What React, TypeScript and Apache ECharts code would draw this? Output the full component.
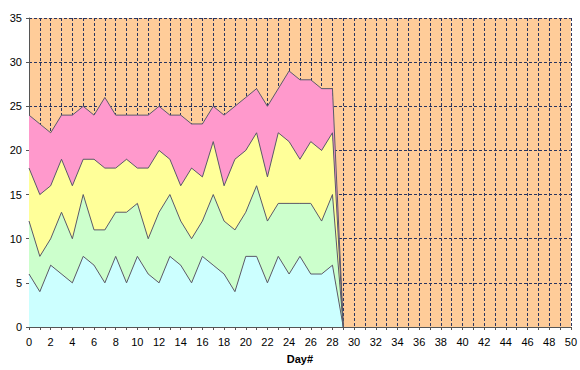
import React, { useEffect, useRef } from "react";
import * as echarts from "echarts";

const dayLabels: string[] = Array.from({ length: 51 }, (_, i) => String(i));
const seriesA: number[] = [6, 4, 7, 6, 5, 8, 7, 5, 8, 5, 8, 6, 5, 8, 7, 5, 8, 7, 6, 4, 8, 8, 5, 8, 6, 8, 6, 6, 7, 0];
const seriesB: number[] = [6, 4, 3, 7, 5, 7, 4, 6, 5, 8, 6, 4, 8, 7, 5, 5, 4, 8, 6, 7, 5, 8, 7, 6, 8, 6, 8, 6, 8, 0];
const seriesC: number[] = [6, 7, 6, 6, 6, 4, 8, 7, 5, 6, 4, 8, 7, 4, 4, 8, 5, 6, 4, 8, 7, 6, 5, 8, 7, 5, 7, 8, 7, 0];
const seriesD: number[] = [6, 8, 6, 5, 8, 6, 5, 8, 6, 5, 6, 6, 5, 5, 8, 5, 6, 4, 8, 6, 6, 5, 8, 5, 8, 9, 7, 7, 5, 0];
const seriesColors: string[] = ["#CCFFFF", "#CCFFCC", "#FFFF99", "#FF99CC"];
const seriesNames: string[] = ["A", "B", "C", "D"];

export default function App() {
  const ref = useRef<HTMLDivElement>(null);
  useEffect(() => {
    if (!ref.current) return;
    const chart = echarts.init(ref.current, null, { renderer: "svg" });
    const all = [seriesA, seriesB, seriesC, seriesD];
    chart.setOption({
      animation: false,
      backgroundColor: "#ffffff",
      grid: {
        left: 29,
        right: 8,
        top: 18,
        bottom: 43,
        show: true,
        backgroundColor: "#FFCC99",
        borderWidth: 0,
      },
      xAxis: {
        type: "category",
        data: dayLabels,
        boundaryGap: false,
        name: "Day#",
        nameLocation: "middle",
        nameGap: 26,
        nameTextStyle: { fontFamily: "Liberation Sans", fontWeight: "bold", fontSize: 11, color: "#000" },
        axisLine: { show: true, lineStyle: { color: "#555555", width: 1 } },
        axisTick: { show: true, interval: 0, length: 3, lineStyle: { color: "#555555" } },
        axisLabel: {
          interval: 1,
          fontFamily: "Liberation Sans",
          fontSize: 11,
          color: "#000",
          margin: 9,
        },
        splitLine: { show: true, interval: 0, lineStyle: { color: "#2a3560", type: [3, 2], width: 1 } },
      },
      yAxis: {
        type: "value",
        min: 0,
        max: 35,
        interval: 5,
        axisLine: { show: true, lineStyle: { color: "#555555", width: 1 } },
        axisTick: { show: true, length: 3, lineStyle: { color: "#555555" } },
        axisLabel: { fontFamily: "Liberation Sans", fontSize: 11, color: "#000", margin: 7 },
        splitLine: { show: true, lineStyle: { color: "#2a3560", type: [3, 2], width: 1 } },
      },
      series: all.map((vals, i) => ({
        name: seriesNames[i],
        type: "line",
        stack: "total",
        symbol: "none",
        data: vals,
        lineStyle: { color: "#5a5a6a", width: 1 },
        areaStyle: { color: seriesColors[i], opacity: 1 },
        z: 2,
      })),
    });
    return () => chart.dispose();
  }, []);
  return <div ref={ref} style={{ position: "absolute", left: 0, top: 0, width: 580, height: 370 }} />;
}
